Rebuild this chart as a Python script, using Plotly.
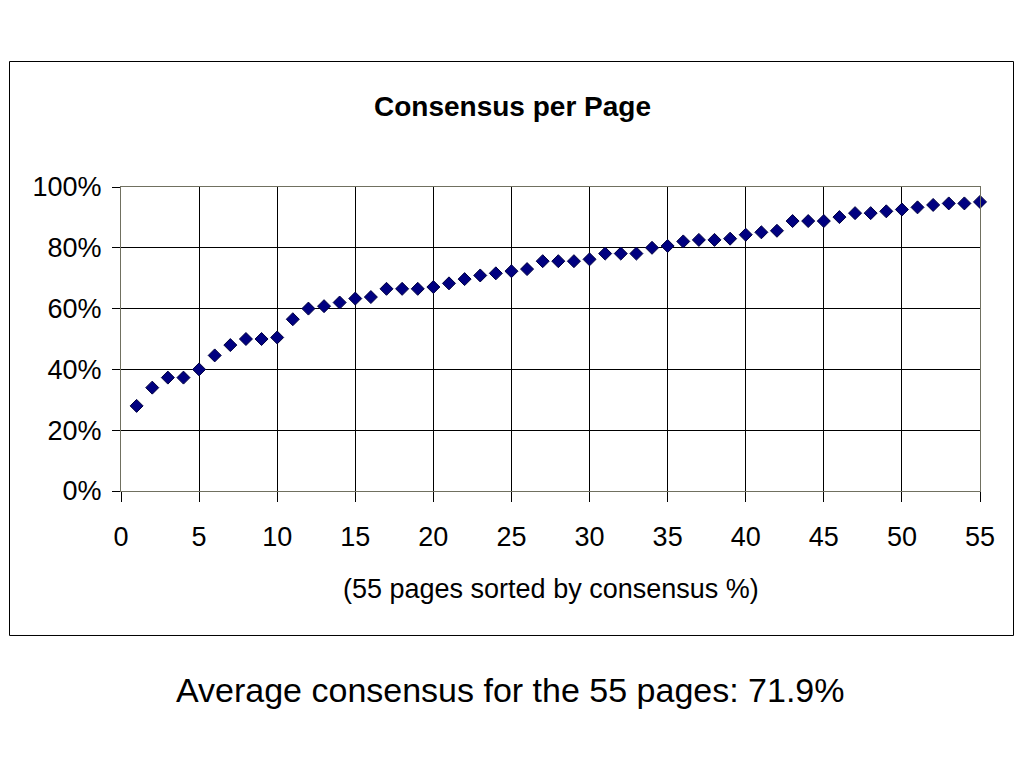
import plotly.graph_objects as go

pages = list(range(1, 56))
consensus_pct = [28, 34, 37.3, 37.3, 40, 44.6, 48, 50, 50, 50.5,
                 56.5, 60, 60.8, 62, 63.3, 63.8, 66.5, 66.5, 66.5, 67.1,
                 68.3, 69.7, 70.9, 71.6, 72.3, 73.0, 75.6, 75.6, 75.6, 76.2,
                 78.1, 78.1, 78.1, 80.0, 80.6, 82.1, 82.6, 82.6, 83.0, 84.3,
                 85.1, 85.6, 88.8, 88.8, 88.8, 90.1, 91.4, 91.4, 92.0, 92.6,
                 93.3, 94.1, 94.6, 94.6, 95.1]
consensus = [v / 100 for v in consensus_pct]

title_text = "Consensus per Page"
xaxis_title = "(55 pages sorted by consensus %)"
footer_text = "Average consensus for the 55 pages: 71.9%"

FONT = "Liberation Sans, Arial, sans-serif"

fig = go.Figure()
fig.add_trace(go.Scatter(
    x=pages, y=consensus, mode="markers", cliponaxis=False,
    marker=dict(symbol="diamond", size=10, color="#000080",
                line=dict(color="#000040", width=1)),
    showlegend=False, hoverinfo="x+y",
))

# page has an 8px body margin; plot area on page: left 121, right 980, top 187, bottom 491
fig.update_layout(
    width=1016, height=760,
    margin=dict(l=113, r=44, t=179, b=277, pad=0),
    paper_bgcolor="white", plot_bgcolor="white",
    font=dict(family=FONT, color="black"),
    xaxis=dict(
        range=[0, 55], dtick=5, tick0=0,
        showgrid=True, gridcolor="black", gridwidth=1,
        zeroline=False,
        showline=True, linecolor="#707060", linewidth=1, mirror=True,
        ticks="outside", ticklen=10, tickcolor="black", tickwidth=1,
        tickfont=dict(size=27, family=FONT, color="black"),
        ticklabelstandoff=12,
    ),
    yaxis=dict(
        range=[0, 1], dtick=0.2, tick0=0, tickformat=".0%",
        showgrid=True, gridcolor="black", gridwidth=1,
        zeroline=False,
        showline=True, linecolor="#707060", linewidth=1, mirror=True,
        ticks="outside", ticklen=8, tickcolor="black", tickwidth=1,
        tickfont=dict(size=27, family=FONT, color="black"),
        ticklabelstandoff=5,
    ),
)

fig.add_annotation(text="<b>" + title_text + "</b>", xref="paper", yref="paper",
                   x=0.4563, y=1.2632, xanchor="center", yanchor="middle",
                   showarrow=False, font=dict(size=28, family=FONT, color="black"))
fig.add_annotation(text=xaxis_title, xref="paper", yref="paper",
                   x=0.5006, y=-0.3224, xanchor="center", yanchor="middle",
                   showarrow=False, font=dict(size=27, family=FONT, color="black"))
fig.add_annotation(text=footer_text, xref="paper", yref="paper",
                   x=0.4529, y=-0.6546, xanchor="center", yanchor="middle",
                   showarrow=False, font=dict(size=34, family=FONT, color="black"))

fig.add_shape(type="rect", xref="paper", yref="paper",
              x0=-0.1298, x1=1.0390, y0=-0.4753, y1=1.4128,
              line=dict(color="black", width=1), fillcolor="rgba(0,0,0,0)")

fig.write_html("out.html")
